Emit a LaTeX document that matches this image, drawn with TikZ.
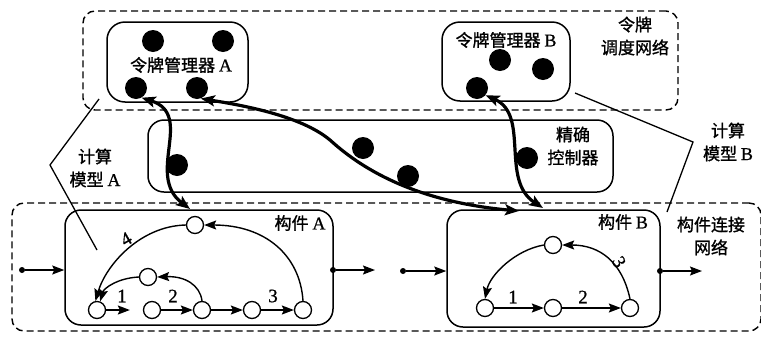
\documentclass[tikz,border=0pt]{standalone}
\usepackage{fontspec}
\newfontfamily\cjk{Noto Sans CJK SC}[FakeBold=1.2]
\newfontfamily\lat{Liberation Serif}[FakeBold=0.8]
\usetikzlibrary{arrows.meta,fit,calc}
\newcommand{\lt}[1]{{\lat\fontsize{18}{23}\selectfont #1}}
\tikzset{
 netbox/.style={draw, dash pattern=on 7pt off 4pt, line width=1.4pt, rounded corners=12pt, inner sep=0pt},
 solidbox/.style={draw, line width=1.5pt, rounded corners=16pt, inner sep=0pt},
 tok/.style={circle, fill=black, minimum size=22pt, inner sep=0pt},
 st/.style={circle, draw, line width=1.3pt, minimum size=17pt, inner sep=0pt, fill=white},
 flow/.style={-{Stealth[length=12pt,width=9pt,inset=2pt]}, line width=1.4pt},
 ctrl/.style={{Stealth[length=14pt,width=11pt,inset=3pt]}-{Stealth[length=14pt,width=11pt,inset=3pt]}, line width=3.2pt},
 pin/.style={circle, fill=black, minimum size=6pt, inner sep=0pt},
 lab/.style={font={\fontsize{17}{23}\selectfont\cjk}, align=center, inner sep=0pt},
 num/.style={font={\lat\fontsize{19}{19}\selectfont}, inner sep=0pt},
 modelline/.style={line width=1.3pt},
}
\begin{document}
\begin{tikzpicture}[x=1pt,y=-1pt]
\useasboundingbox (0,0) rectangle (761,338);
% dashed networks
\node[netbox, fit={(83,11)(678,110)}] (tokennet) {};
\node[netbox, fit={(12,203)(761,331)}] (compnet) {};
% solid boxes
\node[solidbox, rounded corners=18pt, fit={(107,22)(248,102)}] (tmA) {};
\node[solidbox, rounded corners=18pt, fit={(442,22)(570,101)}] (tmB) {};
\node[solidbox, fit={(148,120)(613,192)}] (ctrlbox) {};
\node[solidbox, fit={(65,210)(333,325)}] (cA) {};
\node[solidbox, fit={(447,210)(660,327)}] (cB) {};
% labels
\node[lab] (lTok) at (635,36) {令牌\\调度网络};
\node[lab] (lCtrl) at (573,146) {精确\\控制器};
\node[lab] (lComp) at (711,236) {构件连接\\网络};
\node[lab] (lMA) at (95,168) {计算\\模型 \lt{A}};
\node[lab] (lMB) at (728,142) {计算\\模型 \lt{B}};
\node[lab] (lTmA) at (181,65) {令牌管理器 \lt{A}};
\node[lab] (lTmB) at (506,40) {令牌管理器 \lt{B}};
\node[lab] (lCA) at (300,223) {构件 \lt{A}};
\node[lab] (lCB) at (623,222) {构件 \lt{B}};
% computing model brackets
\coordinate (mA1) at (99,99);
\coordinate (mA2) at (50,165);
\coordinate (mA3) at (97,250);
\draw[modelline] (mA1) -- (mA2) -- (mA3);
\coordinate (mB1) at (575,93);
\coordinate (mB2) at (693,142);
\coordinate (mB3) at (667,212);
\draw[modelline] (mB1) -- (mB2) -- (mB3);
% tokens
\node[tok] (dA1) at (153,41) {};
\node[tok] (dA2) at (223,41) {};
\node[tok] (dA3) at (136,88) {};
\node[tok] (dA4) at (197,88) {};
\node[tok] (dB1) at (500,60) {};
\node[tok] (dB2) at (543,69) {};
\node[tok] (dB3) at (477,88) {};
\node[tok] (dC1) at (177,165) {};
\node[tok] (dC2) at (363,148) {};
\node[tok] (dC3) at (408,176) {};
\node[tok] (dC4) at (527,158) {};
% component A states
\node[st] (n1) at (97,310) {};
\node[st] (n2) at (152,310) {};
\node[st] (n3) at (202,310) {};
\node[st] (n4) at (252,310) {};
\node[st] (n5) at (303,310) {};
\node[st] (n6) at (148,277) {};
\node[st] (n7) at (195,225) {};
\draw[flow, shorten >=13pt] (n1) -- (n2);
\draw[flow] (n2) -- (n3);
\draw[flow] (n3) -- (n4);
\draw[flow] (n4) -- (n5);
\draw[flow] (n3.north) .. controls (200,285) and (185,276) .. (n6.east);
\draw[flow] (n6.west) .. controls (118,278) and (104,288) .. (n1.70);
\draw[flow] (n5.north) .. controls (300,255) and (265,225) .. (n7.east);
\draw[flow] (n7.west) .. controls (140,226) and (106,265) .. (n1.100);
\node[num] (t1) at (122,296) {1};
\node[num] (t2) at (173,296) {2};
\node[num] (t3) at (273,296) {3};
\node[num, rotate=30] (t4) at (126,239) {4};
% component B states
\node[st] (m1) at (485,308) {};
\node[st] (m2) at (553,308) {};
\node[st] (m3) at (630,308) {};
\node[st] (m4) at (553,245) {};
\draw[flow] (m1) -- (m2);
\draw[flow] (m2) -- (m3);
\draw[flow] (m3.north) .. controls (622,262) and (600,245) .. (m4.east);
\draw[flow] (m4.west) .. controls (515,250) and (490,275) .. (m1.north);
\node[num] (u1) at (513,297) {1};
\node[num] (u2) at (583,297) {2};
\node[num, rotate=-60] (u3) at (619,262) {3};
% in/out pins
\node[pin] (inA) at (22,270) {};
\node[pin] (outA) at (333,270) {};
\coordinate (outAend) at (375,270);
\draw[flow] (inA) -- (inA -| cA.west);
\draw[flow] (outA) -- (outAend);
\node[pin] (inB) at (403,271) {};
\node[pin] (outB) at (660,271) {};
\coordinate (outBend) at (702,271);
\draw[flow] (inB) -- (inB -| cB.west);
\draw[flow] (outB) -- (outBend);
% control curves
\coordinate (e1) at (190,209);
\coordinate (e2) at (519,211);
\coordinate (e3) at (543,208);
\coordinate (c2m) at (330,140);
\draw[ctrl] (dA3.300) .. controls (195,115) and (145,175) .. (e1);
\draw[ctrl] (dA4.290) .. controls (240,105) and (300,115) .. (c2m) .. controls (365,172) and (420,202) .. (e2);
\draw[ctrl] (dB3.320) .. controls (530,115) and (500,180) .. (e3);
\end{tikzpicture}
\end{document}
